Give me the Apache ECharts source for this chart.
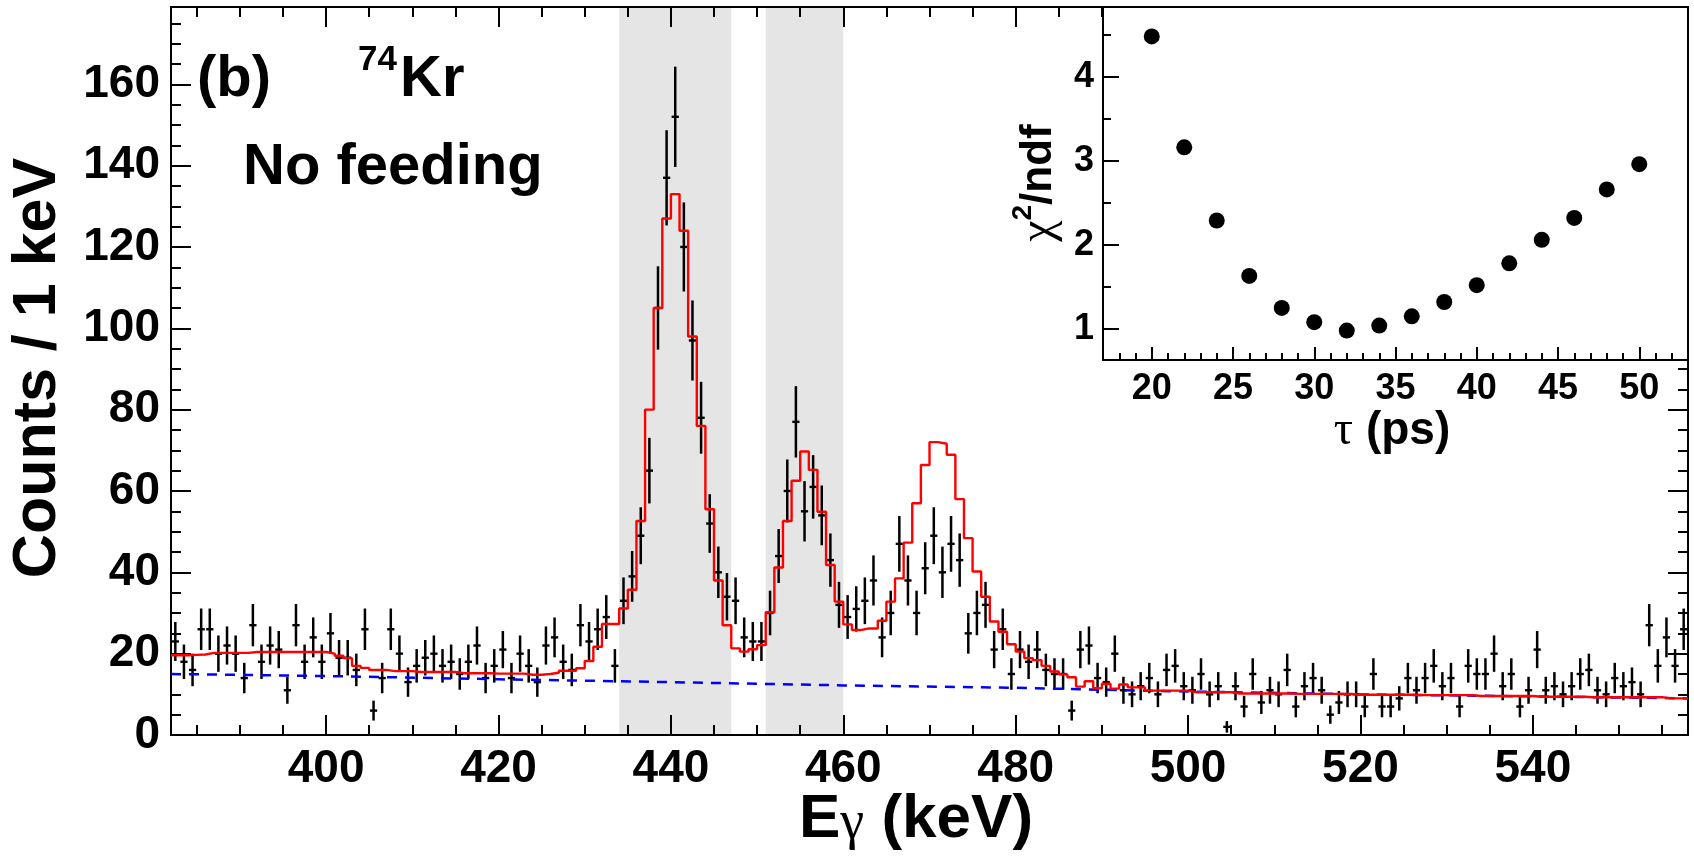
<!DOCTYPE html>
<html>
<head>
<meta charset="utf-8">
<title>74Kr - No feeding</title>
<script src="https://cdn.jsdelivr.net/npm/echarts@6.0.0/dist/echarts.min.js"></script>
<style>
html,body{margin:0;padding:0;background:#ffffff;}
#chart{width:1694px;height:866px;}
</style>
</head>
<body>
<div id="chart"></div>
<script>
// ---------------- data ----------------
// main spectrum: 1 keV bins from 382 to 558 keV
const energyStart = 382;
const energyEnd = 558;
// measured counts per 1 keV bin (bin centres 382.5 ... 557.5)
const counts = [
  23,18,16,26,26,20,22,20,14,27, 18,22,21,11,27,18,24,18,25,19,
  19,16,26,6,14,26,20,13,17,19, 20,17,18,15,18,22,14,17,21,14,
  20,17,13,22,24,18,16,27,23,26,
  29,17,33,39,49,65,105,137,152,120, 97,78,52,40,34,33,24,23,23,30,
  44,60,77,55,61,54,43,32,29,31, 33,38,24,30,47,38,30,41,49,40,
  47,43,25,30,32,21,26,15,21,18, 21,16,15,15,6,21,22,14,13,
  20,11,10,12,14,10,16,17,12, 11,15,10,12,2,12,7,15,8,11,
  10,16,7,12,14,11,5,8,10,10, 7,15,7,7,9,14,11,14,17,12,
  14,7,17,15,15,20,12,15,7,11, 21,11,12,10,12,15,16,11,10,14,
  12,13,10,27,17,24,17,26
];
// total fit (red histogram), one value per 1 keV bin (382 ... 557)
const fitTotal = [
  19.6,19.6,19.7,19.8,20.2,20.2,20.2,20.2,20.2,20.4,20.4,20.4,20.4,20.4,20.4,20.4,20.4,20.4,
  20.0,19.5,18.9,17.0,16.5,16.0,16.0,15.7,15.7,15.7, 15.5,15.5,15.5,15.5,15.5,15.2,15.2,15.2,15.2,15.1,
  15.1,15.1,15.1,14.8,14.8,15.0,15.3,15.8,15.8,16.4, 18.2,21.7,
  27.3,27.3,31.1,35.7,52.6,80,105,127,133,124, 98,76,55.5,38.0,27.0,21.3,20.5,21.1,22.1,30.2,
  41.2,52.6,62.5,69.7,65.2,54.9,41.8,32.8,27.2,25.8, 26.2,26.2,28.1,32.8,38.5,47.3,57.0,66.4,72.0,71.6,
  68.9,58.0,48.4,40.2,34.0,27.9,25.4,22.3,20.5,18.9, 18.4,17.0,15.6,14.9,14.2,11.9,13.2,11.5,12.6,11.4,
  12.4,11.7,11.7,
  10.9,10.9,10.9,10.9,10.9, 10.5,10.5,10.5,10.5,10.5, 10.2,10.2,10.2,10.2,10.2,10.2,10.2,
  10.1,10.1,10.1,10.1,10.1,10.1,10.1, 9.9,9.9,9.9,9.9,9.9,9.9,9.9, 9.8,9.8,9.8,9.8,9.8,9.8,9.8,
  9.6,9.6,9.6,9.6,9.6,9.6,9.6, 9.4,9.4,9.4,9.4,9.4,9.4, 9.3,9.3,9.3,9.3,9.3,9.3,9.3,9.3,9.3, 9.0,9.0,9.0
];
// background (blue dashed), read at several energies
const backgroundE = [382, 400, 420, 440, 460, 480, 495, 500, 520, 540, 558];
const backgroundY = [15.0, 14.5, 13.7, 13.0, 12.2, 11.6, 10.9, 10.7, 10.0, 9.5, 9.0];
// grey gate regions (keV)
const gateBands = [[434, 447], [451, 460]];
// inset: chi2/ndf versus lifetime
const tau = [20,22,24,26,28,30,32,34,36,38,40,42,44,46,48,50];
const chi2ndf = [4.48,3.16,2.29,1.63,1.25,1.08,0.98,1.04,1.15,1.32,1.52,1.78,2.06,2.32,2.66,2.96];

// tick positions / labels
const xMajorTicks = [400,420,440,460,480,500,520,540];
const xMinorTicks = [385,390,395,405,410,415,425,430,435,445,450,455,465,470,475,485,490,495,505,510,515,525,530,535,545,550,555];
const yMajorTicks = [0,20,40,60,80,100,120,140,160];
const yMinorTicks = [5,10,15,25,30,35,45,50,55,65,70,75,85,90,95,105,110,115,125,130,135,145,150,155,165,170,175];
const tauMajorTicks = [20,25,30,35,40,45,50];
const tauMinorTicks = [18,19,21,22,23,24,26,27,28,29,31,32,33,34,36,37,38,39,41,42,43,44,46,47,48,49,51,52];
const chiMajorTicks = [1,2,3,4];
const chiMinorTicks = [1.5,2.5,3.5,4.5];

// ---------------- chart ----------------
const FONT = '"Liberation Sans", Arial, Helvetica, sans-serif';
const SERIF = '"Liberation Serif", "DejaVu Serif", serif';

function ticks(values, len) {
  return {show: true, inside: true, length: len, customValues: values,
          lineStyle: {color: '#000', width: 2}};
}
function labels(values, size, margin) {
  return {show: true, customValues: values, fontSize: size, fontWeight: 'bold',
          fontFamily: FONT, color: '#000', margin: margin, lineHeight: size,
          formatter: v => String(v)};
}
function axis(base, extra) {
  return Object.assign({
    type: 'value',
    axisLine: {show: false, onZero: false},
    axisLabel: {show: false},
    splitLine: {show: false},
    axisPointer: {show: false}
  }, base, extra);
}

const mainX = {gridIndex: 0, min: energyStart, max: energyEnd, z: 3};
const mainY = {gridIndex: 0, min: 0, max: 179, z: 3};
const insetX = {gridIndex: 1, min: 17, max: 53, z: 6};
const insetY = {gridIndex: 1, min: 0.63, max: 4.83, z: 6};

const binCentres = counts.map((c, i) => [energyStart + i + 0.5, c]);
const fitSteps = fitTotal.map((v, i) => [energyStart + i, v]);
fitSteps.push([energyEnd, fitTotal[fitTotal.length - 1]]);

const option = {
  animation: false,
  backgroundColor: '#ffffff',
  grid: [
    {left: 171, top: 7, width: 1517, height: 728, show: true,
     backgroundColor: 'transparent', borderColor: '#000', borderWidth: 2, z: 2},
    {left: 1103, top: 7, width: 585, height: 353, show: true,
     backgroundColor: '#ffffff', borderColor: '#000', borderWidth: 2, z: 5}
  ],
  xAxis: [
    axis(mainX, {position: 'bottom', axisTick: ticks(xMajorTicks, 20), axisLabel: labels(xMajorTicks, 46, 11)}),
    axis(mainX, {position: 'bottom', axisTick: ticks(xMinorTicks, 10)}),
    axis(mainX, {position: 'top', axisTick: ticks(xMajorTicks, 20)}),
    axis(mainX, {position: 'top', axisTick: ticks(xMinorTicks, 10)}),
    axis(insetX, {position: 'bottom', axisTick: ticks(tauMajorTicks, 13), axisLabel: labels(tauMajorTicks, 36, 11)}),
    axis(insetX, {position: 'bottom', axisTick: ticks(tauMinorTicks, 7)})
  ],
  yAxis: [
    axis(mainY, {position: 'left', axisTick: ticks(yMajorTicks, 20), axisLabel: labels(yMajorTicks, 46, 11)}),
    axis(mainY, {position: 'left', axisTick: ticks(yMinorTicks, 10)}),
    axis(mainY, {position: 'right', axisTick: ticks(yMajorTicks, 20)}),
    axis(mainY, {position: 'right', axisTick: ticks(yMinorTicks, 10)}),
    axis(insetY, {position: 'left', axisTick: ticks(chiMajorTicks, 16), axisLabel: labels(chiMajorTicks, 36, 9)}),
    axis(insetY, {position: 'left', axisTick: ticks(chiMinorTicks, 8)})
  ],
  series: [
    {
      type: 'custom', name: 'gates', xAxisIndex: 0, yAxisIndex: 0, z: 1, silent: true,
      data: gateBands,
      renderItem: function (params, api) {
        const cs = params.coordSys;
        const p0 = api.coord([api.value(0), 0]);
        const p1 = api.coord([api.value(1), 0]);
        return {type: 'rect', shape: {x: p0[0], y: cs.y, width: p1[0] - p0[0], height: cs.height},
                style: {fill: '#e5e5e5'}};
      }
    },
    {
      type: 'custom', name: 'data', xAxisIndex: 0, yAxisIndex: 0, z: 3, silent: true,
      data: binCentres,
      renderItem: function (params, api) {
        const x = api.value(0), y = api.value(1), e = Math.sqrt(y);
        const top = api.coord([x, y + e]);
        const bot = api.coord([x, Math.max(y - e, 0)]);
        const l = api.coord([x - 0.42, y]);
        const r = api.coord([x + 0.42, y]);
        return {type: 'group', children: [
          {type: 'line', shape: {x1: top[0], y1: top[1], x2: bot[0], y2: bot[1]},
           style: {stroke: '#000', lineWidth: 2.5}},
          {type: 'line', shape: {x1: l[0], y1: l[1], x2: r[0], y2: r[1]},
           style: {stroke: '#000', lineWidth: 2.4}}
        ]};
      }
    },
    {
      type: 'line', name: 'background', xAxisIndex: 0, yAxisIndex: 0, z: 3, silent: true,
      data: backgroundE.map((e, i) => [e, backgroundY[i]]),
      symbol: 'none', showSymbol: false,
      lineStyle: {color: '#0000ff', width: 2.5, type: [10, 8]}
    },
    {
      type: 'line', name: 'fit', xAxisIndex: 0, yAxisIndex: 0, z: 4, silent: true,
      step: 'end', data: fitSteps, symbol: 'none', showSymbol: false,
      lineStyle: {color: '#ff0000', width: 2.4}
    },
    {
      type: 'scatter', name: 'chi2', xAxisIndex: 4, yAxisIndex: 4, z: 7, silent: true,
      data: tau.map((t, i) => [t, chi2ndf[i]]),
      symbol: 'circle', symbolSize: 16, itemStyle: {color: '#000', opacity: 1}
    }
  ],
  graphic: [
    {type: 'text', x: 38, y: 368, rotation: Math.PI / 2, z: 10,
     style: {text: 'Counts / 1 keV', fontSize: 61, fontWeight: 'bold', fontFamily: FONT,
             fill: '#000', align: 'center', verticalAlign: 'middle'}},
    {type: 'text', x: 916, y: 820, z: 10,
     style: {text: '{e|E}{g|γ}{e| (keV)}', align: 'center', verticalAlign: 'middle',
             rich: {
               e: {fontSize: 62, fontWeight: 'bold', fontFamily: FONT, lineHeight: 62, fill: '#000'},
               g: {fontSize: 54, fontFamily: SERIF, lineHeight: 33, verticalAlign: 'bottom', fill: '#000'}
             }}},
    {type: 'text', x: 197, y: 80, z: 10,
     style: {text: '(b)', fontSize: 58, fontWeight: 'bold', fontFamily: FONT, fill: '#000',
             align: 'left', verticalAlign: 'middle'}},
    {type: 'text', x: 358, y: 60, z: 10,
     style: {text: '74', fontSize: 35, fontWeight: 'bold', fontFamily: FONT, fill: '#000',
             align: 'left', verticalAlign: 'middle'}},
    {type: 'text', x: 400, y: 80, z: 10,
     style: {text: 'Kr', fontSize: 58, fontWeight: 'bold', fontFamily: FONT, fill: '#000',
             align: 'left', verticalAlign: 'middle'}},
    {type: 'text', x: 243, y: 168, z: 10,
     style: {text: 'No feeding', fontSize: 58, fontWeight: 'bold', fontFamily: FONT, fill: '#000',
             align: 'left', verticalAlign: 'middle'}},
    {type: 'text', x: 1039, y: 183, rotation: Math.PI / 2, z: 10,
     style: {text: '{c|χ}{s|2}{a|/ndf}', align: 'center', verticalAlign: 'middle',
             rich: {
               c: {fontSize: 48, fontFamily: SERIF, lineHeight: 60, fill: '#000'},
               s: {fontSize: 28, fontWeight: 'bold', fontFamily: FONT, lineHeight: 15, verticalAlign: 'top', fill: '#000'},
               a: {fontSize: 44, fontWeight: 'bold', fontFamily: FONT, lineHeight: 60, fill: '#000'}
             }}},
    {type: 'text', x: 1392, y: 431, z: 10,
     style: {text: '{t|τ}{a| (ps)}', align: 'center', verticalAlign: 'middle',
             rich: {
               t: {fontSize: 48, fontFamily: SERIF, lineHeight: 46, fill: '#000'},
               a: {fontSize: 46, fontWeight: 'bold', fontFamily: FONT, lineHeight: 46, fill: '#000'}
             }}}
  ]
};

const chart = echarts.init(document.getElementById('chart'), null, {renderer: 'canvas', width: 1694, height: 866});
chart.setOption(option);
</script>
</body>
</html>
